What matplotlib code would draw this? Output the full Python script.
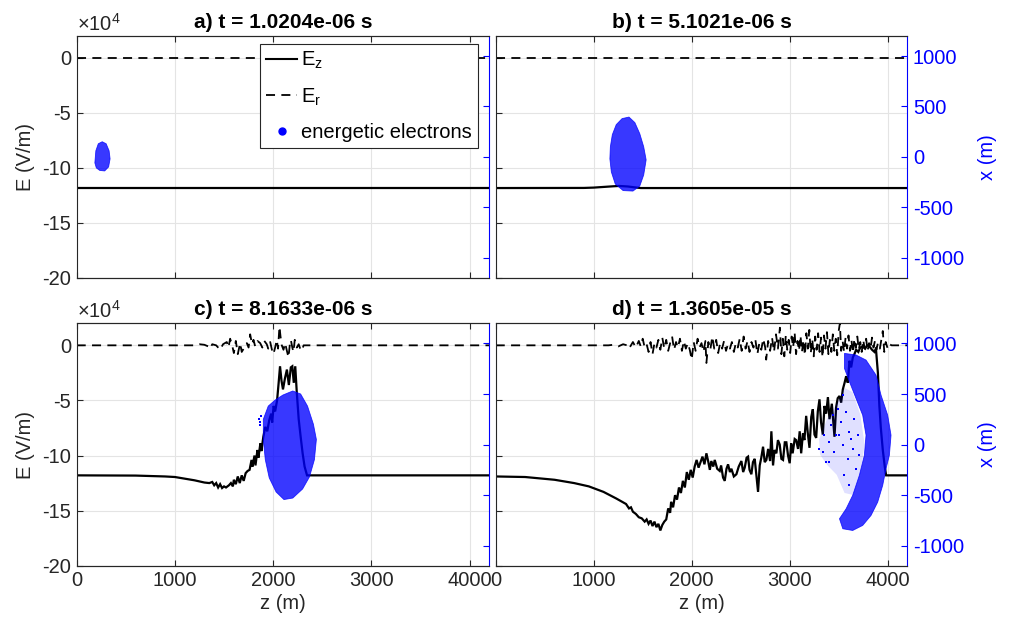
import matplotlib
matplotlib.use("Agg")
import matplotlib.pyplot as plt
from matplotlib.lines import Line2D
from matplotlib.patches import Polygon

plt.rcParams['font.family'] = ['Liberation Sans', 'DejaVu Sans']
plt.rcParams['mathtext.fontset'] = 'custom'
plt.rcParams['mathtext.rm'] = 'Liberation Sans'
plt.rcParams['mathtext.default'] = 'regular'
plt.rcParams['axes.unicode_minus'] = False

# ---- data (E in units of 1e4 V/m, z and x in m) ----
titles = ['a) t = 1.0204e-06 s', 'b) t = 5.1021e-06 s',
          'c) t = 8.1633e-06 s', 'd) t = 1.3605e-05 s']

z_a = [0, 4200]
Ez_a = [-11.84, -11.84]
Er_a = [0, 0]

z_b = [0, 900, 1000, 1100, 1200, 1260, 1350, 1420, 1480, 4200]
Ez_b = [-11.84, -11.83, -11.8, -11.74, -11.68, -11.65, -11.7, -11.78, -11.84, -11.84]
zr_b = [0, 4200]
Er_b = [0, 0]

z_c = [0, 600, 900, 1000, 1100, 1200, 1300, 1350, 1380, 1400, 1420, 1440, 1460, 1480,
       1500, 1520, 1550, 1570, 1590, 1600, 1620, 1640, 1660, 1680, 1700, 1720, 1740,
       1760, 1780, 1790, 1810, 1820, 1840, 1850, 1870, 1880, 1900, 1920, 1940, 1960,
       1980, 1990, 2005, 2020, 2040, 2055, 2070, 2085, 2100, 2120, 2140, 2160, 2180,
       2195, 2210, 2225, 2240, 2260, 2280, 2300, 2320, 2345, 4200]
Ez_c = [-11.8, -11.82, -11.9, -11.95, -12.1, -12.25, -12.45, -12.5, -12.4, -12.7, -12.5,
        -12.9, -12.6, -12.95, -12.8, -12.9, -12.7, -12.5, -12.8, -12.2, -12.6, -11.9,
        -12.5, -11.8, -12.3, -11.6, -11.4, -11.3, -10.4, -11.0, -10.0, -10.9, -9.5,
        -10.2, -8.9, -9.6, -8.3, -7.4, -7.8, -6.8, -6.2, -7.0, -5.5, -6.0, -5.0, -3.5,
        -1.9, -3.2, -4.0, -3.0, -2.2, -3.6, -2.0, -1.9, -3.4, -1.9, -4.2, -6.7, -8.3,
        -9.8, -11.0, -11.8, -11.8]
zr_c = [0, 1200, 1250, 1300, 1340, 1358, 1380, 1420, 1460, 1490, 1528, 1545, 1562, 1580,
        1600, 1620, 1640, 1664, 1680, 1700, 1732, 1750, 1766, 1785, 1800, 1817, 1840,
        1868, 1890, 1910, 1935, 1950, 1970, 1990, 2003, 2020, 2037, 2050, 2064, 2075,
        2088, 2105, 2122, 2140, 2156, 2170, 2180, 2195, 2207, 2220, 2241, 2260, 2275,
        2292, 2310, 4200]
Er_c = [0, 0, 0.1, 0.05, -0.1, -0.3, 0.1, 0, -0.4, 0.1, 0.3, -0.2, 0.6, 0.1, -0.7, 0.4,
        -0.8, 0.2, -0.6, -0.3, 0.2, -0.2, 1.0, 0.1, 0.5, -0.1, 0.4, 0.2, -0.2, 0.4, 0.1,
        -0.3, 0.3, -0.5, -0.8, -0.2, 0.5, -0.3, 1.7, 0.8, 0.0, -0.4, 0.2, -0.5, -1.1, 0.1,
        0.5, -0.2, -0.6, 0.5, -0.2, 0.1, -0.3, -0.5, 0, 0]

z_d = [0, 300, 600, 800, 950, 1100, 1230, 1330, 1360, 1380, 1400, 1430, 1460, 1490,
       1520, 1540, 1560, 1580, 1600, 1620, 1640, 1660, 1680, 1700, 1720, 1740, 1760,
       1780, 1790, 1810, 1830, 1850, 1870, 1890, 1910, 1930, 1950, 1970, 1990, 2010,
       2030, 2050, 2070, 2090, 2110, 2130, 2150, 2170, 2185, 2200, 2220, 2235, 2260,
       2286, 2300, 2320, 2337, 2355, 2371, 2390, 2405, 2430, 2456, 2480, 2507, 2525,
       2541, 2560, 2575, 2590, 2609, 2625, 2643, 2660, 2677, 2694, 2710, 2728, 2745,
       2762, 2780, 2800, 2813, 2830, 2845, 2864, 2880, 2898, 2915, 2932, 2950, 2966,
       2983, 3000, 3015, 3030, 3051, 3066, 3085, 3102, 3117, 3135, 3150, 3168, 3185,
       3202, 3220, 3236, 3253, 3270, 3287, 3304, 3320, 3338, 3355, 3372, 3390, 3406,
       3430, 3457, 3474, 3490, 3508, 3525, 3542, 3560, 3576, 3593, 3610, 3627, 3644,
       3660, 3678, 3700, 3720, 3746, 3770, 3790, 3814, 3840, 3865, 3880, 3900, 3915,
       3930, 3950, 3970, 3984, 4200]
Ez_d = [-11.9, -11.95, -12.2, -12.5, -12.8, -13.3, -13.9, -14.4, -14.8, -14.7, -15.1,
        -15.3, -15.6, -15.7, -16.0, -15.8, -16.2, -15.9, -16.4, -16.0, -16.5, -16.2,
        -16.8, -16.3, -16.0, -15.8, -14.8, -15.2, -14.2, -14.7, -13.6, -14.0, -12.9,
        -13.4, -12.3, -12.9, -11.5, -12.2, -11.3, -12.0, -11.0, -10.4, -11.1, -10.6,
        -10.1, -10.8, -9.8, -10.6, -11.3, -10.5, -11.0, -10.4, -11.2, -11.4, -10.9,
        -12.0, -12.3, -11.2, -10.8, -11.5, -11.2, -11.9, -11.7, -11.0, -10.5, -11.5,
        -11.1, -10.2, -10.1, -11.3, -11.7, -10.6, -10.3, -11.8, -13.3, -10.9, -10.2,
        -9.2, -10.6, -10.4, -9.4, -10.5, -7.8, -10.9, -9.5, -9.8, -8.6, -9.0, -10.3,
        -10.4, -8.8, -8.8, -10.0, -10.7, -8.9, -9.8, -8.5, -8.6, -9.4, -7.8, -9.8, -8.0,
        -8.6, -6.4, -8.0, -9.3, -6.5, -5.8, -8.1, -8.4, -6.0, -4.9, -7.0, -8.1, -5.5,
        -6.2, -4.7, -6.7, -5.3, -8.3, -5.6, -4.8, -4.6, -5.2, -4.0, -3.4, -2.8, -3.4,
        -1.4, -2.0, -1.1, -0.8, -0.4, -0.6, -0.2, -0.1, -0.3, 0.0, -0.1, -0.4, -0.6,
        -0.3, -2.5, -5.5, -7.5, -9.5, -11.0, -11.8, -11.8]
zr_d = [0, 1150, 1200, 1250, 1300, 1340, 1360, 1400, 1430, 1460, 1480, 1500, 1520, 1540,
        1560, 1580, 1600, 1620, 1640, 1660, 1680, 1700, 1720, 1740, 1760, 1780, 1800,
        1820, 1840, 1860, 1880, 1900, 1920, 1940, 1960, 1980, 2000, 2020, 2040, 2060,
        2080, 2100, 2120, 2140, 2150, 2170, 2190, 2210, 2230, 2250, 2270, 2290, 2310,
        2330, 2350, 2370, 2390, 2410, 2430, 2450, 2470, 2490, 2510, 2530, 2550, 2570,
        2590, 2610, 2630, 2650, 2670, 2690, 2710, 2730, 2750, 2760, 2780, 2800, 2820,
        2840, 2860, 2880, 2900, 2915, 2930, 2945, 2960, 2975, 2990, 3005, 3020, 3035,
        3050, 3065, 3080, 3095, 3110, 3125, 3140, 3155, 3170, 3185, 3200, 3215, 3230,
        3245, 3260, 3275, 3290, 3305, 3320, 3335, 3350, 3365, 3380, 3395, 3410, 3425,
        3440, 3455, 3470, 3485, 3500, 3512, 3525, 3540, 3555, 3570, 3585, 3600, 3615,
        3630, 3645, 3660, 3675, 3690, 3705, 3720, 3735, 3750, 3765, 3780, 3795, 3810,
        3825, 3840, 3855, 3870, 3885, 3900, 3920, 3935, 3950, 3965, 3980, 4000, 4020,
        4040, 4200]
Er_d = [0, 0, 0.05, -0.1, 0.1, 0, -0.3, 0.3, -0.2, 0.4, -0.1, 0.6, -0.2, 0.1, -0.6, 0.3,
        -0.8, 0.2, -0.2, 0.5, -0.4, 0.7, -0.3, 0.5, -0.5, 0.2, 0.8, -0.4, 0.3, -0.2, 0.6,
        -0.5, 0.4, -0.3, 0.2, -0.4, -1.3, 0.3, -0.5, 0.6, -0.2, 0.2, -0.6, 0.4, -1.6, 0.3,
        -0.4, 0.8, -0.3, 0.5, -0.7, 0.2, -0.3, 0.4, -0.5, 0.1, -0.3, 0.3, -0.6, 0.2, -0.2,
        0.6, -0.5, 0.8, -0.3, 0.4, -0.6, 0.3, -0.2, 0.5, -0.8, 0.2, -0.4, 0.6, -0.2, -1.3,
        0.4, -0.5, 0.7, -0.6, 1.0, -0.3, 1.6, -0.8, 0.6, -1.0, 0.9, -0.4, 0.5, -0.7, 0.8,
        -0.2, 1.2, -0.8, 0.4, -0.5, 0.9, -0.6, 0.5, -0.9, 1.1, -0.3, 1.4, -0.7, 0.6, -1.0,
        0.8, -0.4, 1.1, -0.6, 0.7, -1.1, 0.9, -0.3, 1.2, -0.8, 0.5, -0.6, 1.0, -0.5, 0.6,
        -0.9, 1.3, 2.0, -0.5, 0.4, -0.6, 0.7, -0.3, 0.9, -0.5, 0.5, -0.7, 0.6, -0.2, 0.8,
        -0.4, 0.3, -0.6, 0.5, -0.3, 0.6, -0.5, 0.2, -0.3, 0.7, -0.2, 0.4, -0.4, 0.2, -0.3,
        0.5, 1.3, -0.6, 0.3, -0.3, 0.1, 0, 0]

# electron cloud outlines (z, x)
cloud_a = [(185, -60), (195, 60), (220, 130), (260, 150), (300, 130), (330, 60),
           (340, -20), (325, -100), (285, -140), (235, -135), (200, -110)]
cloud_b = [(1170, 100), (1190, 220), (1230, 320), (1290, 380), (1360, 395), (1420, 340),
           (1470, 230), (1510, 100), (1535, -30), (1510, -180), (1470, -290), (1400, -340),
           (1300, -335), (1220, -270), (1180, -150), (1165, -20)]
cloud_c = [(1900, 250), (1950, 380), (2020, 440), (2100, 490), (2200, 530), (2280, 500),
           (2350, 380), (2410, 200), (2440, 50), (2420, -150), (2370, -320), (2300, -440),
           (2200, -530), (2110, -545), (2030, -470), (1960, -330), (1920, -150), (1900, 50)]
cloud_d = [(3559, 902), (3677, 886), (3779, 836), (3881, 687), (3932, 489), (4000, 290),
           (4034, 92), (4017, -107), (3983, -239), (3949, -404), (3898, -570), (3830, -702),
           (3745, -801), (3643, -851), (3542, -834), (3508, -735), (3576, -636), (3643, -503),
           (3711, -305), (3762, -107), (3779, 92), (3745, 290), (3677, 456), (3610, 621),
           (3559, 753)]
# thin region of scattered electrons inside the crescent of panel d
halo_d = [(3300, 50), (3380, 250), (3480, 400), (3560, 560), (3640, 520), (3720, 300),
          (3765, 0), (3720, -300), (3650, -500), (3560, -480), (3480, -300), (3380, -200),
          (3310, -100)]
# sparse electrons outside the dense clouds
sparse_z = [3304, 3355, 3406, 3457, 3372, 3474, 3525, 3576, 3610, 3542, 3644, 3593, 3677,
            3559, 3610, 3508, 3423, 3491, 3542, 3661, 3406, 3338, 3440, 3627, 3694, 3711,
            1855, 1870, 1880, 1865]
sparse_x = [-40, 92, 26, -73, -173, 92, 224, 323, 125, -8, -40, -140, -239, -305, -404,
            92, 191, 356, 489, 257, -173, -73, 290, 59, 92, -107,
            250, 220, 280, 190]
sparse_panel = [3] * 26 + [2] * 4

panels = [(z_a, Ez_a, z_a, Er_a, cloud_a),
          (z_b, Ez_b, zr_b, Er_b, cloud_b),
          (z_c, Ez_c, zr_c, Er_c, cloud_c),
          (z_d, Ez_d, zr_d, Er_d, cloud_d)]

positions = [[0.0760, 0.5550, 0.4089, 0.3873],
             [0.4913, 0.5550, 0.4079, 0.3873],
             [0.0760, 0.0934, 0.4089, 0.3885],
             [0.4913, 0.0934, 0.4079, 0.3885]]

dark = '#262626'
fs = 14.5
fig = plt.figure(figsize=(10.09, 6.24), dpi=100)

for i, (zz, ez, zr, er, cloud) in enumerate(panels):
    ax = fig.add_axes(positions[i])
    ax.plot(zz, ez, color='black', lw=1.6, solid_joinstyle='miter')
    ax.plot(zr, er, color='black', lw=1.3, linestyle=(0, (5, 3.5)))
    ax.set_xlim(0, 4200)
    ax.set_ylim(-20, 2)
    ax.set_xticks([0, 1000, 2000, 3000, 4000])
    ax.set_yticks([-20, -15, -10, -5, 0])
    ax.grid(True, color='#e4e4e4', lw=0.8)
    ax.set_axisbelow(True)
    ax.tick_params(direction='in', length=4, labelsize=fs, colors=dark, top=True,
                   right=False, pad=4)
    for s in ['left', 'top', 'bottom']:
        ax.spines[s].set_color(dark)
    ax.spines['right'].set_visible(False)
    ax.set_title(titles[i], fontsize=15, fontweight='bold', pad=6)

    if i % 2 == 0:
        ax.set_ylabel('E (V/m)', fontsize=fs, color=dark, labelpad=5)
        ax.text(0.0, 1.005, r'$\times10^{4}$', transform=ax.transAxes, fontsize=fs,
                color=dark, ha='left', va='bottom')
    else:
        ax.set_yticklabels([])
    if i < 2:
        ax.set_xticklabels([])
    else:
        ax.set_xlabel('z (m)', fontsize=fs, color=dark, labelpad=3)

    ax2 = ax.twinx()
    ax2.set_ylim(-1200, 1200)
    ax2.set_yticks([-1000, -500, 0, 500, 1000])
    ax2.tick_params(direction='in', length=4, labelsize=fs, colors='blue', pad=4)
    ax2.spines['right'].set_color('blue')
    ax2.spines['left'].set_visible(False)
    ax2.spines['top'].set_color(dark)
    ax2.spines['bottom'].set_color(dark)
    if i == 3:
        ax2.add_patch(Polygon(halo_d, closed=True, facecolor='blue', edgecolor='none',
                              alpha=0.12))
    ax2.add_patch(Polygon(cloud, closed=True, facecolor='blue', edgecolor='blue',
                          lw=0.6, alpha=0.78))
    sz = [z for z, p in zip(sparse_z, sparse_panel) if p == i]
    sx = [x for x, p in zip(sparse_x, sparse_panel) if p == i]
    if sz:
        ax2.scatter(sz, sx, s=1.5, color='blue', marker='s', linewidths=0)
    if i % 2 == 1:
        ax2.set_ylabel('x (m)', fontsize=fs, color='blue', labelpad=10)
    else:
        ax2.set_yticklabels([])

    if i == 0:
        handles = [Line2D([], [], color='black', lw=1.5),
                   Line2D([], [], color='black', lw=1.3, linestyle=(0, (5, 3.5))),
                   Line2D([], [], color='blue', marker='o', markersize=5, linestyle='none')]
        leg = ax2.legend(handles, ['E$_z$', 'E$_r$', 'energetic electrons'],
                         loc='upper left', bbox_to_anchor=(0.444, 0.967),
                         fontsize=fs, handlelength=1.55, handletextpad=0.2,
                         labelspacing=0.75, borderpad=0.3, fancybox=False,
                         framealpha=1, edgecolor=dark, borderaxespad=0)
        leg.get_frame().set_linewidth(0.8)

fig.savefig('out.png', dpi=100)
